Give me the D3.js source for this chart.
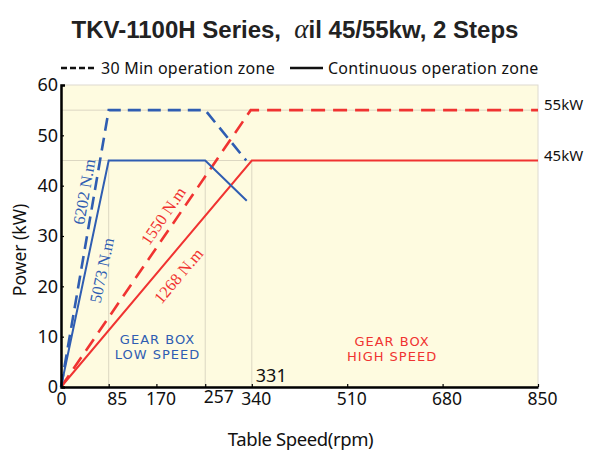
<!DOCTYPE html>
<html>
<head>
<meta charset="utf-8">
<script src="https://cdn.jsdelivr.net/npm/d3@7"></script>
<style>
  html, body { margin: 0; padding: 0; background: #ffffff; }
  svg { display: block; }
</style>
</head>
<body>
<svg id="chart" width="595" height="452"></svg>
<script>
// chart values
const xTicks = [0, 85, 170, 257, 340, 510, 680, 850];
const yTicks = [0, 10, 20, 30, 40, 50, 60];
const gridSpeeds = [85, 257, 340];      // vertical guides (up to 45 kW)
const gridPowers = [45, 55];            // horizontal guides

// [rpm, kW]
const low30 = [[0, 0], [85, 55], [257, 55], [330, 45]];
const lowCont = [[0, 0], [85, 45], [257, 45], [331, 37]];
const high30 = [[0, 0], [338, 55], [850, 55]];
const highCont = [[0, 0], [340, 45], [850, 45]];

const torqueLabels = [
  { text: "6202 N.m", series: "low30", at: [41, 38.8] },
  { text: "5073 N.m", series: "lowCont", at: [72.5, 23.2] },
  { text: "1550 N.m", series: "high30", at: [182, 34] },
  { text: "1268 N.m", series: "highCont", at: [209, 22.1] }
];

const powerLabels = [{ kw: 55, text: "55kW" }, { kw: 45, text: "45kW" }];

const d3 = window.d3;
const svg = d3.select("#chart");
const W = 595, H = 452;
const margin = { top: 85, right: 57, bottom: 65, left: 61 };

const BLUE = "#2f5db2";
const RED = "#f03331";
const GRID = "#dcd7c2";
const GEO = "'Noto Sans', 'DejaVu Sans', sans-serif";

const x = d3.scaleLinear().domain([0, 850]).range([margin.left, W - margin.right]);
const y = d3.scaleLinear().domain([0, 60]).range([H - margin.bottom, margin.top]);

// plot background + faint frame
svg.append("rect")
  .attr("x", x(0)).attr("y", y(60))
  .attr("width", x(850) - x(0)).attr("height", y(0) - y(60))
  .attr("fill", "#fefbe0")
  .attr("stroke", "#dedad0")
  .attr("stroke-width", 1);

// guides
svg.append("g").selectAll("line")
  .data(gridPowers)
  .join("line")
  .attr("x1", x(0)).attr("x2", x(850))
  .attr("y1", d => y(d)).attr("y2", d => y(d))
  .attr("stroke", GRID).attr("stroke-width", 1);

svg.append("g").selectAll("line")
  .data(gridSpeeds)
  .join("line")
  .attr("x1", d => x(d)).attr("x2", d => x(d))
  .attr("y1", y(45)).attr("y2", y(0))
  .attr("stroke", GRID).attr("stroke-width", 1);

// curves
const line = d3.line().x(d => x(d[0])).y(d => y(d[1]));
const series = [
  { key: "high30", data: high30, color: RED, dash: "14,8", width: 2.6 },
  { key: "highCont", data: highCont, color: RED, dash: null, width: 2 },
  { key: "low30", data: low30, color: BLUE, dash: "13,7", width: 2.6 },
  { key: "lowCont", data: lowCont, color: BLUE, dash: null, width: 2 }
];

svg.append("g").selectAll("path")
  .data(series)
  .join("path")
  .attr("fill", "none")
  .attr("stroke", d => d.color)
  .attr("stroke-width", d => d.width)
  .attr("stroke-dasharray", d => d.dash)
  .attr("d", d => line(d.data));

// torque labels along the ramps
const byKey = Object.fromEntries(series.map(s => [s.key, s]));
svg.append("g").selectAll("text")
  .data(torqueLabels)
  .join("text")
  .attr("transform", d => {
    const s = byKey[d.series].data;
    const ang = Math.atan2(y(s[1][1]) - y(0), x(s[1][0]) - x(0)) * 180 / Math.PI;
    return `translate(${x(d.at[0])},${y(d.at[1])}) rotate(${ang})`;
  })
  .attr("text-anchor", "middle")
  .attr("dy", "0.35em")
  .attr("font-family", "'Liberation Serif', 'DejaVu Serif', serif")
  .attr("font-size", 16.5)
  .attr("fill", d => byKey[d.series].color)
  .text(d => d.text);

// gear box captions, one text per line
const captions = [
  { lines: ["GEAR BOX", "LOW SPEED"], at: [172, 8.6], color: BLUE },
  { lines: ["GEAR BOX", "HIGH SPEED"], at: [590, 8.2], color: RED }
];
captions.forEach(c => {
  c.lines.forEach((s, i) => {
    svg.append("text")
      .attr("x", x(c.at[0])).attr("y", y(c.at[1]) + i * 15)
      .attr("text-anchor", "middle")
      .attr("font-family", "'DejaVu Sans', sans-serif")
      .attr("font-size", 13)
      .attr("letter-spacing", 1)
      .attr("fill", c.color)
      .text(s);
  });
});

svg.append("text")
  .attr("x", x(340) + 4).attr("y", y(0) - 5)
  .attr("font-family", GEO).attr("font-size", 18).attr("fill", "#111")
  .text("331");

// power labels at right
svg.append("g").selectAll("text")
  .data(powerLabels)
  .join("text")
  .attr("x", x(850) + 6)
  .attr("y", d => y(d.kw))
  .attr("font-family", GEO).attr("font-size", 15).attr("fill", "#111")
  .text(d => d.text);

// axes
const gx = svg.append("g")
  .attr("transform", `translate(0,${y(0)})`)
  .call(d3.axisBottom(x).tickValues(xTicks).tickSizeInner(-3).tickSizeOuter(0).tickPadding(6));
gx.selectAll(".tick text")
  .attr("dx", d => d === 257 ? 13 : d === 85 ? 8 : d === 0 ? 0 : 4)
  .attr("dy", d => d === 257 ? "0.55em" : "0.71em");

const gy = svg.append("g")
  .attr("transform", `translate(${x(0)},0)`)
  .call(d3.axisLeft(y).tickValues(yTicks).tickSizeInner(-3).tickSizeOuter(-4).tickPadding(3));

[gx, gy].forEach(g => {
  g.select(".domain").attr("stroke", "#000").attr("stroke-width", 2.5);
  g.selectAll(".tick line").attr("stroke", "#000").attr("stroke-width", 1.2);
  g.selectAll(".tick text")
    .attr("font-family", GEO).attr("font-size", 17.5).attr("fill", "#111");
});
gy.selectAll(".tick text").attr("font-size", 18);

// axis titles
svg.append("text")
  .attr("x", (x(0) + x(850)) / 2 + 1).attr("y", 446)
  .attr("text-anchor", "middle")
  .attr("font-family", GEO).attr("font-size", 18.5).attr("letter-spacing", -0.4)
  .attr("fill", "#111")
  .text("Table Speed(rpm)");

svg.append("text")
  .attr("transform", `translate(26,${(y(0) + y(60)) / 2 + 14}) rotate(-90)`)
  .attr("text-anchor", "middle")
  .attr("font-family", GEO).attr("font-size", 17.5)
  .attr("fill", "#111")
  .text("Power (kW)");

// title
const title = svg.append("text")
  .attr("x", 295).attr("y", 38)
  .attr("text-anchor", "middle")
  .attr("font-family", "'Liberation Sans', Arial, sans-serif")
  .attr("font-weight", "bold").attr("font-size", 24)
  .attr("fill", "#222");
title.append("tspan").text("TKV-1100H Series,\u00a0\u00a0");
title.append("tspan")
  .attr("font-family", "'Liberation Serif', serif")
  .attr("font-style", "italic").attr("font-weight", "normal").attr("font-size", 27)
  .text("\u03b1");
title.append("tspan").text("il 45/55kw, 2 Steps");

// legend
const legend = [
  { label: "30 Min operation zone", dash: "6,3", x0: 61, x1: 95, tx: 101 },
  { label: "Continuous operation zone", dash: null, x0: 290, x1: 323, tx: 328 }
];
const lg = svg.append("g");
legend.forEach(l => {
  lg.append("line")
    .attr("x1", l.x0).attr("x2", l.x1).attr("y1", 68).attr("y2", 68)
    .attr("stroke", "#111").attr("stroke-width", 2.5)
    .attr("stroke-dasharray", l.dash);
  lg.append("text")
    .attr("x", l.tx).attr("y", 73.5)
    .attr("font-family", GEO).attr("font-size", 16).attr("letter-spacing", 0.25)
    .attr("fill", "#111")
    .text(l.label);
});
</script>
</body>
</html>
